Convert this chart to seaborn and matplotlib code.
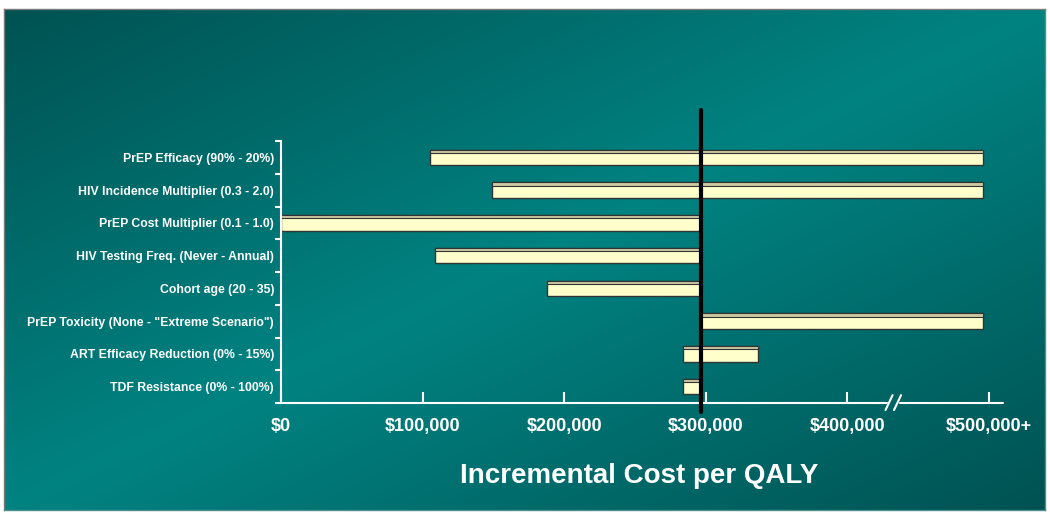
import numpy as np
import matplotlib
matplotlib.use("Agg")
import matplotlib.pyplot as plt
from matplotlib.patches import Rectangle
import seaborn as sns

# parametros da analise de sensibilidade (tornado)
labels = [
    "PrEP Efficacy (90% - 20%)",
    "HIV Incidence Multiplier (0.3 - 2.0)",
    "PrEP Cost Multiplier (0.1 - 1.0)",
    "HIV Testing Freq. (Never - Annual)",
    "Cohort age (20 - 35)",
    'PrEP Toxicity (None - "Extreme Scenario")',
    "ART Efficacy Reduction (0% - 15%)",
    "TDF Resistance (0% - 100%)",
]
low = [105000, 149000, 0, 109000, 188000, 297000, 284000, 284000]
high = [496000, 496000, 297000, 297000, 297000, 496000, 337000, 297000]
base_case = 297000
axis_break = (428000, 437000)

tick_values = [0, 100000, 200000, 300000, 400000, 500000]
tick_labels = ["$0", "$100,000", "$200,000", "$300,000", "$400,000", "$500,000+"]

sns.set_theme(style="ticks")
plt.rcParams["font.family"] = ["Liberation Sans", "DejaVu Sans"]

fig = plt.figure(figsize=(10.5, 5.16), dpi=100)
fig.patch.set_facecolor("white")

# fundo em degrade
bg = fig.add_axes([4 / 1050, 6 / 516, 1041 / 1050, 501 / 516], zorder=0)
u, v = np.meshgrid(np.linspace(0, 1, 500), np.linspace(0, 1, 250))
t = (u + v) / 2
w = 1 - np.abs(2 * t - 1)
dark = np.array([0, 0x52, 0x52]) / 255
bright = np.array([0, 0x83, 0x82]) / 255
img = dark + w[..., None] * (bright - dark)
bg.imshow(img, aspect="auto", interpolation="bilinear")
bg.set_xticks([])
bg.set_yticks([])
for side, s in bg.spines.items():
    s.set_color("#7a7a7a" if side in ("top", "left") else "#4f8f8c")
    s.set_linewidth(1)

ax = fig.add_axes([281 / 1050, 1 - 403 / 516, 722 / 1050, 262 / 516], zorder=1)
ax.patch.set_alpha(0)

widths = [h - l for l, h in zip(low, high)]
sns.barplot(x=widths, y=labels, ax=ax, orient="h", color="#FFFFCC",
            saturation=1, edgecolor="#333333", linewidth=1, width=0.47,
            errorbar=None)
for patch, lo in zip(list(ax.patches), low):
    patch.set_x(lo)
    ax.add_patch(Rectangle((lo, patch.get_y()), patch.get_width(), 0.1,
                           facecolor="#CCC8A2", edgecolor="#333333",
                           linewidth=0.8, zorder=patch.get_zorder() + 0.1))

ax.set_xlim(0, 510000)
ax.set_ylim(7.5, -0.5)
ax.set_xlabel("")
ax.set_ylabel("")

ax.set_xticks(tick_values)
ax.set_xticklabels(tick_labels, fontsize=13, fontweight="bold", color="white")
ax.tick_params(axis="x", direction="in", length=8, width=1.5, colors="white", pad=11)

ax.set_yticks(range(len(labels)))
ax.set_yticklabels(labels, fontsize=8.8, fontweight="bold", color="white")
ax.set_yticks(np.arange(-0.5, len(labels), 1), minor=True)
ax.tick_params(axis="y", which="major", length=0, pad=5)
ax.tick_params(axis="y", which="minor", length=4, width=1.5, colors="white", direction="out")

for side in ["top", "right", "bottom"]:
    ax.spines[side].set_visible(False)
ax.spines["left"].set_color("white")
ax.spines["left"].set_linewidth(1.5)

# eixo x com quebra
xt = ax.get_xaxis_transform()
ax.plot([0, axis_break[0]], [0, 0], transform=xt, color="white", lw=1.5, clip_on=False)
ax.plot([axis_break[1], 510000], [0, 0], transform=xt, color="white", lw=1.5, clip_on=False)
ax.plot([axis_break[0] - 1000, axis_break[0] + 4000], [-0.027, 0.03], transform=xt,
        color="white", lw=1.5, clip_on=False)
ax.plot([axis_break[1] - 4000, axis_break[1] + 1000], [-0.027, 0.03], transform=xt,
        color="white", lw=1.5, clip_on=False)

# caso base
ax.axvline(base_case, ymin=-0.034, ymax=1.118, color="black", lw=3, clip_on=False, zorder=5)

fig.text(639 / 1050, 1 - 476 / 516, "Incremental Cost per QALY", ha="center", va="center",
         fontsize=20, fontweight="bold", color="white")

fig.savefig("out.png", dpi=100, facecolor=fig.get_facecolor())
